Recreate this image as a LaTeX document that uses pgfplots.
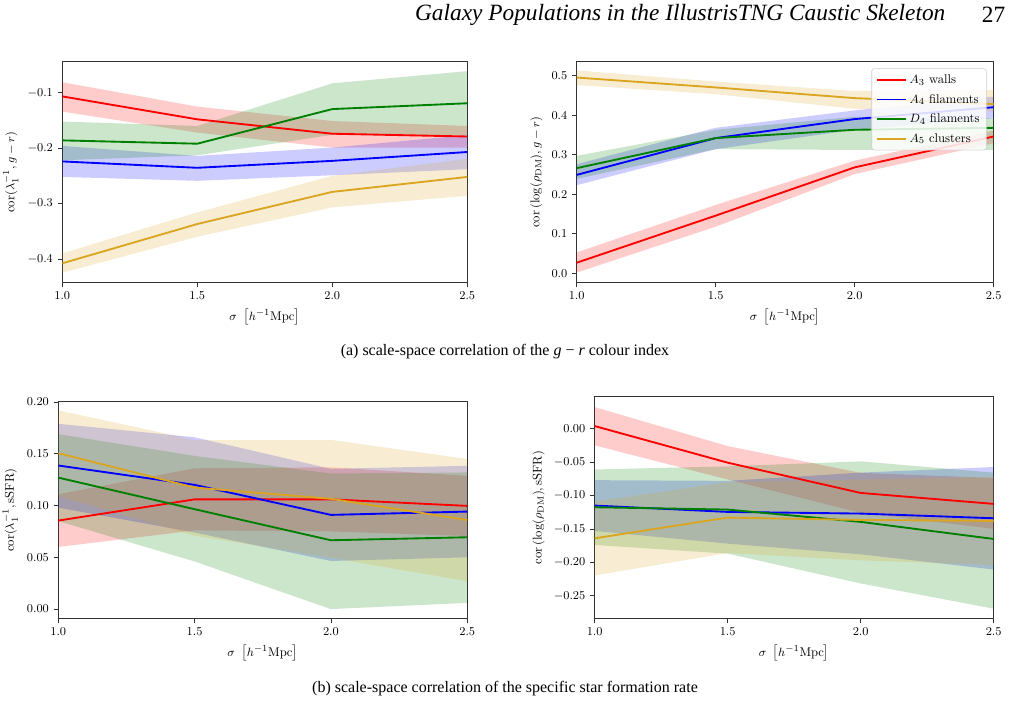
\documentclass[border=0pt]{standalone}
\usepackage{fontspec}
\usepackage{pgfplots}
\pgfplotsset{compat=1.18}
\newfontfamily\timesfont{Liberation Serif}

\definecolor{cwall}{RGB}{255,0,0}
\definecolor{cfil}{RGB}{0,0,255}
\definecolor{cdfil}{RGB}{0,128,0}
\definecolor{cclu}{RGB}{218,165,32}

\pgfplotsset{
  panel/.style={
    scale only axis, anchor=south west,
    xmin=1, xmax=2.5, xtick={1,1.5,2,2.5},
    xticklabel style={/pgf/number format/.cd, fixed, fixed zerofill, precision=1},
    tick align=outside, tick pos=left, major tick length=3.5pt,
    axis line style={black!80, line width=0.6pt},
    every tick/.style={black!80, line width=0.6pt},
    tick label style={font=\fontsize{9.5}{11}\selectfont},
    label style={font=\fontsize{9.5}{11}\selectfont},
    xlabel={$\sigma\ \left[h^{-1}\mathrm{Mpc}\right]$},
  },
  yprec/.style={yticklabel style={/pgf/number format/.cd, fixed, fixed zerofill, precision=#1}},
  band/.style={fill=#1, fill opacity=0.2, draw=none},
  key/.style={legend image code/.code={\draw[draw=#1, line width=1.4pt] (0pt,0pt) -- (22pt,0pt);}},
}

\begin{document}
\begin{tikzpicture}
\path[use as bounding box] (0,0) rectangle (762pt,527.25pt);

\node[anchor=east, font=\timesfont\itshape\fontsize{17.5}{20}\selectfont] at (712.5pt,516pt)
  {Galaxy Populations in the IllustrisTNG Caustic Skeleton};
\node[anchor=east, font=\timesfont\fontsize{17.5}{20}\selectfont] at (757.5pt,516pt) {27};

% (a) left: cor(lambda_1^{-1}, g-r); bands run along the upper bound, then back along the lower one
\begin{axis}[panel, yprec=1, at={(46.7pt,315.2pt)}, width=303.75pt, height=165.75pt,
  ymin=-0.443, ymax=-0.044, ytick={-0.4,-0.3,-0.2,-0.1},
  ylabel={$\mathrm{cor}(\lambda_1^{-1}, g-r)$}]
\addplot[band=cwall, forget plot] coordinates {(1,-0.081) (1.5,-0.125) (2,-0.151) (2.5,-0.160) (2.5,-0.199) (2,-0.199) (1.5,-0.172) (1,-0.134)};
\addplot[band=cfil, forget plot] coordinates {(1,-0.196) (1.5,-0.214) (2,-0.199) (2.5,-0.1765) (2.5,-0.238) (2,-0.249) (1.5,-0.259) (1,-0.252)};
\addplot[band=cdfil, forget plot] coordinates {(1,-0.152) (1.5,-0.160) (2,-0.083) (2.5,-0.061) (2.5,-0.177) (2,-0.176) (1.5,-0.213) (1,-0.222)};
\addplot[band=cclu, forget plot] coordinates {(1,-0.390) (1.5,-0.316) (2,-0.250) (2.5,-0.219) (2.5,-0.286) (2,-0.307) (1.5,-0.360) (1,-0.425)};
\addplot[cwall, line width=1.4pt, forget plot] coordinates {(1,-0.1066) (1.5,-0.148) (2,-0.174) (2.5,-0.179)};
\addplot[cfil, line width=1.4pt, forget plot] coordinates {(1,-0.224) (1.5,-0.2355) (2,-0.223) (2.5,-0.207)};
\addplot[cdfil, line width=1.4pt, forget plot] coordinates {(1,-0.186) (1.5,-0.192) (2,-0.1295) (2.5,-0.119)};
\addplot[cclu, line width=1.4pt, forget plot] coordinates {(1,-0.408) (1.5,-0.337) (2,-0.279) (2.5,-0.252)};
\end{axis}

% (a) right: cor(log rho_DM, g-r)
\begin{axis}[panel, yprec=1, at={(432.5pt,315.2pt)}, width=312.75pt, height=165.75pt,
  ymin=-0.0236, ymax=0.535, ytick={0,0.1,0.2,0.3,0.4,0.5},
  ylabel={$\mathrm{cor}\left(\log(\rho_{\mathrm{DM}}), g-r\right)$},
  legend cell align=left,
  legend style={at={(0.983,0.970)}, anchor=north east, draw=black!20, fill=white,
    fill opacity=0.85, text opacity=1, draw opacity=1, rounded corners=2pt,
    font=\fontsize{9.5}{11}\selectfont, row sep=2.5pt, inner xsep=3pt, inner ysep=2.5pt}]
\addlegendimage{key=cwall}
\addlegendentry{$A_3$ walls}
\addlegendimage{key=cfil}
\addlegendentry{$A_4$ filaments}
\addlegendimage{key=cdfil}
\addlegendentry{$D_4$ filaments}
\addlegendimage{key=cclu}
\addlegendentry{$A_5$ clusters}
\addplot[band=cwall, forget plot] coordinates {(1,0.053) (1.5,0.173) (2,0.285) (2.5,0.361) (2.5,0.329) (2,0.251) (1.5,0.118) (1,0.002)};
\addplot[band=cfil, forget plot] coordinates {(1,0.276) (1.5,0.368) (2,0.412) (2.5,0.447) (2.5,0.392) (2,0.363) (1.5,0.314) (1,0.223)};
\addplot[band=cdfil, forget plot] coordinates {(1,0.297) (1.5,0.363) (2,0.396) (2.5,0.392) (2.5,0.312) (2,0.312) (1.5,0.314) (1,0.239)};
\addplot[band=cclu, forget plot] coordinates {(1,0.513) (1.5,0.485) (2,0.461) (2.5,0.464) (2.5,0.409) (2,0.416) (1.5,0.453) (1,0.476)};
\addplot[cwall, line width=1.4pt, forget plot] coordinates {(1,0.027) (1.5,0.146) (2,0.268) (2.5,0.346)};
\addplot[cfil, line width=1.4pt, forget plot] coordinates {(1,0.249) (1.5,0.342) (2,0.390) (2.5,0.420)};
\addplot[cdfil, line width=1.4pt, forget plot] coordinates {(1,0.266) (1.5,0.342) (2,0.363) (2.5,0.368)};
\addplot[cclu, line width=1.4pt, forget plot] coordinates {(1,0.495) (1.5,0.470) (2,0.443) (2.5,0.428)};
\end{axis}

\node[font=\timesfont\fontsize{12}{14}\selectfont] at (378.75pt,263.25pt)
  {(a) scale-space correlation of the \textit{g} − \textit{r} colour index};

% (b) left: cor(lambda_1^{-1}, sSFR)
\begin{axis}[panel, yprec=2, at={(43.7pt,63.2pt)}, width=306.75pt, height=162.75pt,
  ymin=-0.0093, ymax=0.2003, ytick={0,0.05,0.1,0.15,0.2},
  ylabel={$\mathrm{cor}(\lambda_1^{-1}, \mathrm{sSFR})$}]
\addplot[band=cwall, forget plot] coordinates {(1,0.111) (1.5,0.136) (2,0.137) (2.5,0.1287) (2.5,0.0706) (2,0.075) (1.5,0.076) (1,0.060)};
\addplot[band=cfil, forget plot] coordinates {(1,0.179) (1.5,0.166) (2,0.1355) (2.5,0.1384) (2.5,0.050) (2,0.0465) (1.5,0.074) (1,0.098)};
\addplot[band=cdfil, forget plot] coordinates {(1,0.169) (1.5,0.148) (2,0.131) (2.5,0.132) (2.5,0.006) (2,0.000) (1.5,0.046) (1,0.085)};
\addplot[band=cclu, forget plot] coordinates {(1,0.192) (1.5,0.1635) (2,0.1635) (2.5,0.145) (2.5,0.027) (2,0.0495) (1.5,0.071) (1,0.109)};
\addplot[cwall, line width=1.4pt, forget plot] coordinates {(1,0.0855) (1.5,0.106) (2,0.106) (2.5,0.0997)};
\addplot[cfil, line width=1.4pt, forget plot] coordinates {(1,0.1387) (1.5,0.120) (2,0.091) (2.5,0.0942)};
\addplot[cdfil, line width=1.4pt, forget plot] coordinates {(1,0.127) (1.5,0.0965) (2,0.0665) (2.5,0.0694)};
\addplot[cclu, line width=1.4pt, forget plot] coordinates {(1,0.1506) (1.5,0.1174) (2,0.1065) (2.5,0.0861)};
\end{axis}

% (b) right: cor(log rho_DM, sSFR)
\begin{axis}[panel, yprec=2, at={(446pt,63.2pt)}, width=299.25pt, height=166.5pt,
  ymin=-0.2844, ymax=0.0479, ytick={-0.25,-0.2,-0.15,-0.1,-0.05,0},
  ylabel={$\mathrm{cor}\left(\log(\rho_{\mathrm{DM}}), \mathrm{sSFR}\right)$}]
\addplot[band=cwall, forget plot] coordinates {(1,0.0324) (1.5,-0.026) (2,-0.066) (2.5,-0.0737) (2.5,-0.150) (2,-0.126) (1.5,-0.076) (1,-0.0249)};
\addplot[band=cfil, forget plot] coordinates {(1,-0.077) (1.5,-0.078) (2,-0.0657) (2.5,-0.0573) (2.5,-0.2107) (2,-0.188) (1.5,-0.172) (1,-0.153)};
\addplot[band=cdfil, forget plot] coordinates {(1,-0.061) (1.5,-0.0563) (2,-0.0488) (2.5,-0.0657) (2.5,-0.2694) (2,-0.2316) (1.5,-0.187) (1,-0.174)};
\addplot[band=cclu, forget plot] coordinates {(1,-0.109) (1.5,-0.080) (2,-0.076) (2.5,-0.072) (2.5,-0.204) (2,-0.197) (1.5,-0.186) (1,-0.2196)};
\addplot[cwall, line width=1.4pt, forget plot] coordinates {(1,0.004) (1.5,-0.0508) (2,-0.0961) (2.5,-0.1125)};
\addplot[cfil, line width=1.4pt, forget plot] coordinates {(1,-0.115) (1.5,-0.1245) (2,-0.127) (2.5,-0.134)};
\addplot[cdfil, line width=1.4pt, forget plot] coordinates {(1,-0.1175) (1.5,-0.121) (2,-0.1394) (2.5,-0.165)};
\addplot[cclu, line width=1.4pt, forget plot] coordinates {(1,-0.164) (1.5,-0.133) (2,-0.1365) (2.5,-0.138)};
\end{axis}

\node[font=\timesfont\fontsize{12}{14}\selectfont] at (378.75pt,10.5pt)
  {(b) scale-space correlation of the specific star formation rate};
\end{tikzpicture}
\end{document}
